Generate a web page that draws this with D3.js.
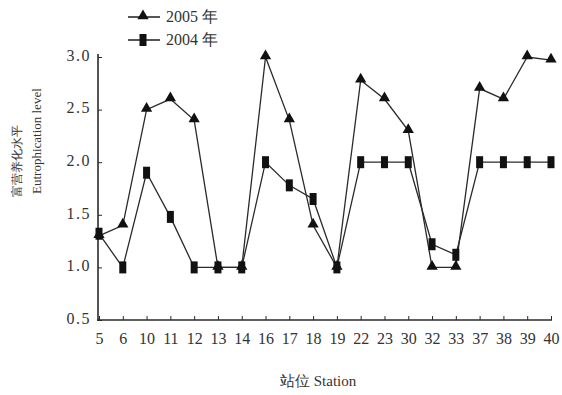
<!DOCTYPE html>
<html>
<head>
<meta charset="utf-8">
<script src="https://cdn.jsdelivr.net/npm/d3@7"></script>
<style>
  body { margin: 0; background: #fff; }
  text { font-family: "Liberation Serif", "DejaVu Serif", serif; fill: #333; }
</style>
</head>
<body>
<svg id="vis" width="562" height="395"></svg>
<script>
// stations on the x axis
var stations = ['5', '6', '10', '11', '12', '13', '14', '16', '17', '18', '19',
                '22', '23', '30', '32', '33', '37', '38', '39', '40'];
// eutrophication level per station
var level2005 = [1.3, 1.4, 2.5, 2.6, 2.4, 1.0, 1.0, 3.0, 2.4, 1.4, 1.0,
                 2.78, 2.6, 2.3, 1.0, 1.0, 2.7, 2.6, 3.0, 2.97];
var level2004 = [1.32, 1.0, 1.9, 1.48, 1.0, 1.0, 1.0, 2.0, 1.78, 1.65, 1.0,
                 2.0, 2.0, 2.0, 1.22, 1.12, 2.0, 2.0, 2.0, 2.0];
var yTicks = [0.5, 1.0, 1.5, 2.0, 2.5, 3.0];
var legendNames = ['2005 年', '2004 年'];

var svg = d3.select('#vis');
var ink = '#2a2a2a';

var x = d3.scalePoint().domain(stations).range([99, 551]);
var y = d3.scaleLinear().domain([0.5, 3.0]).range([320, 57]);

// x axis, small ticks pointing up
var xAxis = svg.append('g')
    .attr('transform', 'translate(0,320)')
    .call(d3.axisBottom(x).tickSizeInner(-4).tickSizeOuter(0).tickPadding(13));
xAxis.select('.domain').attr('stroke', ink).attr('stroke-width', 1.6)
    .attr('d', 'M97,0H552');
xAxis.selectAll('line').attr('stroke', ink);
xAxis.selectAll('text').attr('font-size', 16).attr('fill', '#333');

// y axis, ticks pointing right
var yAxis = svg.append('g')
    .attr('transform', 'translate(98,0)')
    .call(d3.axisLeft(y).tickValues(yTicks).tickFormat(d3.format('.1f'))
        .tickSizeInner(-4).tickSizeOuter(0).tickPadding(7));
yAxis.select('.domain').attr('stroke', ink).attr('stroke-width', 1.6)
    .attr('d', 'M0,54V321');
yAxis.selectAll('line').attr('stroke', ink);
yAxis.selectAll('text').attr('font-size', 16).attr('fill', '#333')
    .attr('letter-spacing', 1.5).attr('dy', '0.2em');

var line = d3.line()
    .x(function (d, i) { return x(stations[i]); })
    .y(function (d) { return y(d); });

svg.append('path').datum(level2004)
    .attr('d', line).attr('fill', 'none').attr('stroke', ink).attr('stroke-width', 1.3);
svg.append('path').datum(level2005)
    .attr('d', line).attr('fill', 'none').attr('stroke', ink).attr('stroke-width', 1.3);

var tri = d3.symbol().type(d3.symbolTriangle).size(55);

function drawSquares(g, data, xs) {
    g.selectAll('rect.m').data(data).enter().append('rect')
        .attr('class', 'm')
        .attr('x', function (d, i) { return xs(i) - 3.5; })
        .attr('y', function (d) { return y(d) - 6; })
        .attr('width', 7).attr('height', 12)
        .attr('fill', '#111');
}

drawSquares(svg.append('g'), level2004, function (i) { return x(stations[i]); });

svg.append('g').selectAll('path').data(level2005).enter().append('path')
    .attr('d', tri)
    .attr('transform', function (d, i) {
        return 'translate(' + x(stations[i]) + ',' + (y(d) - 1) + ')';
    })
    .attr('fill', '#111');

// legend
var legend = svg.append('g');
legendNames.forEach(function (name, i) {
    var ly = 17 + i * 23;
    legend.append('line').attr('x1', 128).attr('x2', 160)
        .attr('y1', ly).attr('y2', ly).attr('stroke', ink).attr('stroke-width', 1.6);
    if (i === 0) {
        legend.append('path').attr('d', tri)
            .attr('transform', 'translate(143,' + (ly - 1) + ')').attr('fill', '#111');
    } else {
        legend.append('rect').attr('x', 139.5).attr('y', ly - 6)
            .attr('width', 7).attr('height', 12).attr('fill', '#111');
    }
    legend.append('text').attr('x', 166).attr('y', ly + 5)
        .attr('font-size', 16).text(name);
});

// axis titles
svg.append('text')
    .attr('transform', 'translate(21,197) rotate(-90)')
    .attr('font-size', 12).attr('font-family', 'Noto Sans CJK SC')
    .attr('fill', '#333')
    .text('富营养化水平');
svg.append('text')
    .attr('transform', 'translate(41,194) rotate(-90)')
    .attr('font-size', 13)
    .text('Eutrophication level');
svg.append('text')
    .attr('x', 280).attr('y', 386)
    .attr('font-size', 15)
    .text('站位 Station');
</script>
</body>
</html>
